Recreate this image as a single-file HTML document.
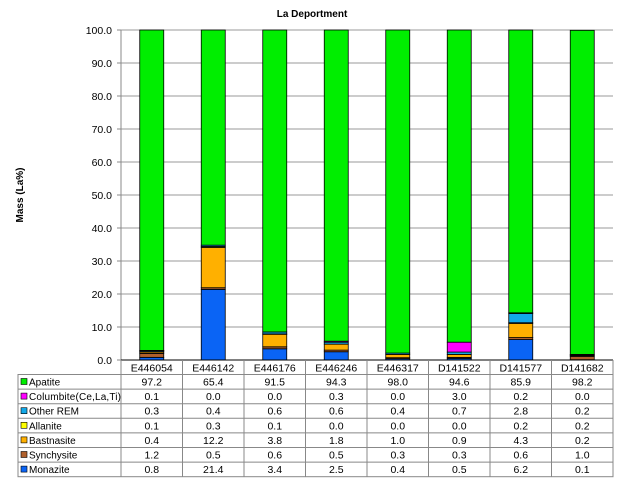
<!DOCTYPE html>
<html><head><meta charset="utf-8"><style>
html,body{margin:0;padding:0;background:#fff;}
svg{display:block;font-family:"Liberation Sans",Arial,sans-serif;}
</style></head><body>
<svg id="c" width="620" height="482" xmlns="http://www.w3.org/2000/svg">
<rect x="0" y="0" width="620" height="482" fill="#fff"/>
<text x="312" y="17" font-size="10" font-weight="bold" text-anchor="middle">La Deportment</text>
<text transform="translate(23,195) rotate(-90)" font-size="10" font-weight="bold" text-anchor="middle">Mass (La%)</text>
<g id="g"></g>
</svg>
<script>
var g=document.getElementById('g');
var NS='http://www.w3.org/2000/svg';
function el(t,a,txt){var e=document.createElementNS(NS,t);for(var k in a)e.setAttribute(k,a[k]);if(txt!=null)e.textContent=txt;g.appendChild(e);return e;}
var L=121,R=613,T=30,B=360,cw=(R-L)/8;
for(var i=0;i<=10;i++){var y=B-i*33;
 if(i>0)el('line',{x1:L,x2:R,y1:y,y2:y,stroke:'#999','stroke-width':1});
 el('line',{x1:L-4,x2:L,y1:y,y2:y,stroke:'#888'});
 el('text',{x:L-9,y:y+4,'font-size':'10.5','text-anchor':'end'},(i*10).toFixed(1));}
var cats=['E446054','E446142','E446176','E446246','E446317','D141522','D141577','D141682'];
var series=[
['Monazite','#0a64f5',[0.8,21.4,3.4,2.5,0.4,0.5,6.2,0.1]],
['Synchysite','#b0602c',[1.2,0.5,0.6,0.5,0.3,0.3,0.6,1.0]],
['Bastnasite','#ffb000',[0.4,12.2,3.8,1.8,1.0,0.9,4.3,0.2]],
['Allanite','#ffff00',[0.1,0.3,0.1,0.0,0.0,0.0,0.2,0.2]],
['Other REM','#12a8e8',[0.3,0.4,0.6,0.6,0.4,0.7,2.8,0.2]],
['Columbite(Ce,La,Ti)','#ff00ff',[0.1,0.0,0.0,0.3,0.0,3.0,0.2,0.0]],
['Apatite','#00ee00',[97.2,65.4,91.5,94.3,98.0,94.6,85.9,98.2]]];
for(var c=0;c<8;c++){var cx=L+cw*(c+0.5),acc=0;
 for(var s=0;s<7;s++){var v=series[s][2][c];if(v<=0)continue;
  var y1=B-acc*3.3,y2=B-Math.min(100,acc+v)*3.3;acc+=v;
  el('rect',{x:cx-12,y:y2,width:24,height:y1-y2,fill:series[s][1],stroke:'#000','stroke-width':0.8});}}
el('line',{x1:L,x2:L,y1:T,y2:B,stroke:'#888'});
el('line',{x1:L,x2:R,y1:B,y2:B,stroke:'#000'});
var rh=14.6,ty=374.5,LL=18;
el('rect',{x:LL,y:ty,width:R-LL,height:rh*7,fill:'none',stroke:'#888'});
for(var c=0;c<=8;c++){var x=L+c*cw;el('line',{x1:x,x2:x,y1:B,y2:ty+rh*7,stroke:'#888'});}
el('line',{x1:L,x2:R,y1:ty,y2:ty,stroke:'#888'});
for(var r=1;r<7;r++)el('line',{x1:LL,x2:R,y1:ty+r*rh,y2:ty+r*rh,stroke:'#888'});
for(var c=0;c<8;c++)el('text',{x:L+cw*(c+0.5),y:ty-3,'font-size':'10.5','text-anchor':'middle'},cats[c]);
for(var r=0;r<7;r++){var s=series[6-r],y=ty+r*rh;
 el('rect',{x:LL+3,y:y+4,width:6,height:6,fill:s[1],stroke:'#000','stroke-width':0.6});
 el('text',{x:LL+11,y:y+11,'font-size':'10','textLength':(s[0].length>12?'92':null)},s[0]);
 for(var c=0;c<8;c++)el('text',{x:L+cw*(c+0.5),y:y+11,'font-size':'10.5','text-anchor':'middle'},s[2][c].toFixed(1));}
</script>
</body></html>
